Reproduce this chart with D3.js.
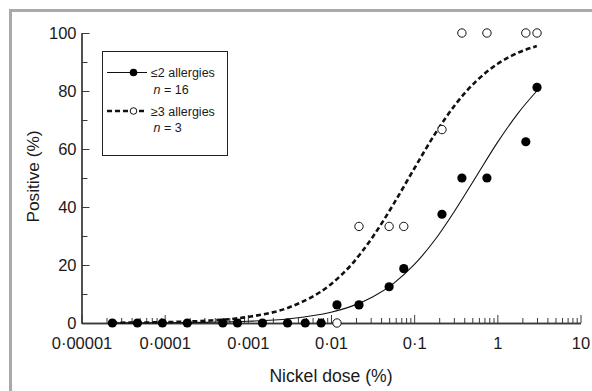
<!DOCTYPE html>
<html>
<head>
<meta charset="utf-8">
<script src="https://cdn.jsdelivr.net/npm/d3@7"></script>
<style>
  html, body { margin: 0; padding: 0; background: #fff; }
  svg { display: block; font-family: "Liberation Sans", Arial, Helvetica, sans-serif; }
</style>
</head>
<body>
<svg id="chart" width="592" height="391"></svg>
<script>
// ---- Data ----
const closedDose = [0.0000235, 0.000047, 0.000094, 0.000187, 0.0005, 0.00075, 0.0015, 0.003, 0.0049, 0.0076, 0.0118, 0.0217, 0.05, 0.075, 0.216, 0.375, 0.75, 2.2, 3.0];
const closedPct  = [0, 0, 0, 0, 0, 0, 0, 0, 0, 0, 6.25, 6.25, 12.5, 18.75, 37.5, 50, 50, 62.5, 81.25];

const openDose = [0.0118, 0.0217, 0.05, 0.075, 0.216, 0.375, 0.75, 2.2, 3.0];
const openPct  = [0, 33.3, 33.3, 33.3, 66.7, 100, 100, 100, 100];

// fitted curves
const fitDose   = [0.0000235, 0.0001, 0.000316, 0.001, 0.00316, 0.01, 0.0178, 0.0316, 0.0562, 0.1, 0.178, 0.316, 0.562, 1, 1.78, 2.98];
const fitClosed = [0.03, 0.09, 0.23, 0.59, 1.49, 3.72, 5.82, 8.98, 13.6, 20.1, 28.7, 39.2, 50.7, 62.2, 72.4, 80.0];
const fitOpen   = [0.09, 0.29, 0.78, 2.08, 5.43, 13.4, 20.3, 29.6, 40.9, 53.2, 65.2, 75.5, 83.5, 89.3, 93.2, 95.5];

const xMajorTicks = [0.00001, 0.0001, 0.001, 0.01, 0.1, 1, 10];
const xTickLabels = ["0·00001", "0·0001", "0·001", "0·01", "0·1", "1", "10"];
const yMajorTicks = [0, 20, 40, 60, 80, 100];
const yMinorTicks = [10, 30, 50, 70, 90];

const legendLabels = ["≤2 allergies", "≥3 allergies"];
const legendN = ["16", "3"];

// ---- Layout ----
const svg = d3.select("#chart");
const axisColor = "#3a3a3a";
const textColor = "#1a1a1a";

const x = d3.scaleLog().domain([0.00001, 10]).range([81.5, 580.5]);
const y = d3.scaleLinear().domain([0, 100]).range([323, 33]);

// frame (top/left visible)
svg.append("path")
  .attr("d", "M10.5,395 V10.5 H600")
  .attr("fill", "none").attr("stroke", "#a9a9a9").attr("stroke-width", 3);

// minor x ticks (2..9 in each decade)
const xMinorTicks = [];
for (let e = -5; e < 1; e++) for (let m = 2; m <= 9; m++) xMinorTicks.push(m * Math.pow(10, e));

const xAxisG = svg.append("g").attr("transform", `translate(0,${y(0)})`);
xAxisG.call(d3.axisBottom(x).tickValues(xMinorTicks).tickSize(-5).tickSizeOuter(0).tickFormat(""));
xAxisG.append("g").call(d3.axisBottom(x).tickValues(xMajorTicks).tickSize(-8).tickSizeOuter(0)
  .tickPadding(14.5).tickFormat((d, i) => xTickLabels[i]));
xAxisG.selectAll("path.domain").attr("stroke", axisColor).attr("stroke-width", 1.3);
xAxisG.selectAll(".tick line").attr("stroke", axisColor).attr("stroke-width", 1);
xAxisG.selectAll("text").attr("fill", textColor).attr("font-size", 16.5)
  .attr("font-family", "'Liberation Sans', Arial, sans-serif");

const yAxisG = svg.append("g").attr("transform", `translate(${x(0.00001)},0)`);
yAxisG.call(d3.axisLeft(y).tickValues(yMinorTicks).tickSize(-6).tickSizeOuter(0).tickFormat(""));
yAxisG.append("g").call(d3.axisLeft(y).tickValues(yMajorTicks).tickSize(-8).tickSizeOuter(0).tickPadding(5));
yAxisG.selectAll("path.domain").attr("stroke", axisColor).attr("stroke-width", 1.3);
yAxisG.selectAll(".tick line").attr("stroke", axisColor).attr("stroke-width", 1);
yAxisG.selectAll("text").attr("fill", textColor).attr("font-size", 16.5)
  .attr("font-family", "'Liberation Sans', Arial, sans-serif");

// axis titles
svg.append("text").attr("x", 331).attr("y", 381.5).attr("text-anchor", "middle")
  .attr("font-size", 17.6).attr("fill", textColor).text("Nickel dose (%)");
svg.append("text").attr("transform", "translate(38.5,176.5) rotate(-90)").attr("text-anchor", "middle")
  .attr("font-size", 17.3).attr("fill", textColor).text("Positive (%)");

// fit curves
const line = d3.line().x(d => x(d[0])).y(d => y(d[1])).curve(d3.curveMonotoneX);
svg.append("path").datum(fitDose.map((d, i) => [d, fitClosed[i]]))
  .attr("d", line).attr("fill", "none").attr("stroke", "#111").attr("stroke-width", 1.1);
svg.append("path").datum(fitDose.map((d, i) => [d, fitOpen[i]]))
  .attr("d", line).attr("fill", "none").attr("stroke", "#111").attr("stroke-width", 2.6)
  .attr("stroke-dasharray", "5,3");

// markers
svg.append("g").selectAll("circle").data(closedDose.map((d, i) => [d, closedPct[i]])).join("circle")
  .attr("cx", d => x(d[0])).attr("cy", d => y(d[1])).attr("r", 4.6).attr("fill", "#000");
svg.append("g").selectAll("circle").data(openDose.map((d, i) => [d, openPct[i]])).join("circle")
  .attr("cx", d => x(d[0])).attr("cy", d => y(d[1])).attr("r", 4.2)
  .attr("fill", "#fff").attr("stroke", "#111").attr("stroke-width", 1);

// legend
const lg = svg.append("g");
lg.append("rect").attr("x", 102.5).attr("y", 51.5).attr("width", 125).attr("height", 104)
  .attr("fill", "#fff").attr("stroke", "#222").attr("stroke-width", 1);
const rowsY = [72.5, 111];
const nY = [94.3, 132.3];
legendLabels.forEach((lab, i) => {
  const ly = rowsY[i];
  lg.append("line").attr("x1", 107).attr("x2", 147).attr("y1", ly).attr("y2", ly)
    .attr("stroke", "#111").attr("stroke-width", i === 0 ? 1.1 : 2.6)
    .attr("stroke-dasharray", i === 0 ? null : "5,3");
  if (i === 0) {
    lg.append("circle").attr("cx", 133.5).attr("cy", ly).attr("r", 3.8).attr("fill", "#000");
  } else {
    lg.append("circle").attr("cx", 133.5).attr("cy", ly).attr("r", 3.3)
      .attr("fill", "#fff").attr("stroke", "#111").attr("stroke-width", 1);
  }
  lg.append("text").attr("x", 151).attr("y", ly + 4.7).attr("font-size", 12.5).attr("fill", textColor).text(lab);
  const t = lg.append("text").attr("x", 153.5).attr("y", nY[i]).attr("font-size", 12.5).attr("fill", textColor);
  t.append("tspan").attr("font-style", "italic").text("n");
  t.append("tspan").text(" = " + legendN[i]);
});
</script>
</body>
</html>
